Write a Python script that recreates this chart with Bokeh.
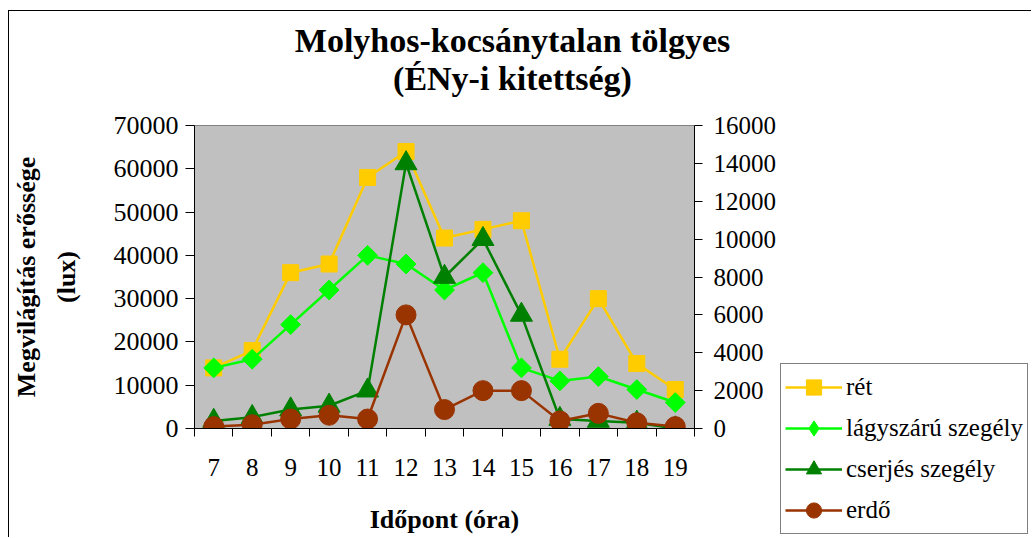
import math
from bokeh.plotting import figure
from bokeh.layouts import row
from bokeh.models import (Range1d, LinearAxis, FixedTicker, Legend, LegendItem, Label)
from bokeh.embed import file_html
from bokeh.resources import INLINE

hours = [7, 8, 9, 10, 11, 12, 13, 14, 15, 16, 17, 18, 19]
ret = [14000, 18000, 36000, 38000, 58000, 64000, 44000, 46000, 48000, 16000, 30000, 15000, 9000]
lagyszaru = [14000, 16000, 24000, 32000, 40000, 38000, 32000, 36000, 14000, 11000, 12000, 9000, 6000]
cserjes = [400, 600, 1000, 1200, 2000, 14000, 8000, 10000, 6000, 500, 400, 300, 0]   # right axis
erdo = [100, 200, 500, 700, 500, 6000, 1000, 2000, 2000, 400, 800, 300, 100]          # right axis
left_ticks = [0, 10000, 20000, 30000, 40000, 50000, 60000, 70000]
right_ticks = [0, 2000, 4000, 6000, 8000, 10000, 12000, 14000, 16000]
series_names = ["rét", "lágyszárú szegély", "cserjés szegély", "erdő"]
colors = ["#FFCC00", "#00FF00", "#008000", "#993300"]
markers = ["square", "square", "triangle", "circle"]
legend_markers = ["square", "diamond", "triangle", "circle"]
mangles = [0, math.pi / 4, 0, 0]
msizes = [16, 14, 22, 20]

FONT = "Liberation Serif"

p = figure(width=770, height=526, output_backend="svg", toolbar_location=None,
           x_range=Range1d(6.5, 19.5), y_range=Range1d(0, 70000),
           min_border_left=183, min_border_right=81, min_border_top=114, min_border_bottom=109,
           x_axis_type=None, y_axis_type=None)
p.frame_align = False
p.extra_y_ranges = {"right": Range1d(0, 16000)}
p.background_fill_color = "#C0C0C0"
p.border_fill_color = "white"
p.outline_line_color = "#808080"
p.outline_line_width = 1

# x axis
xaxis = LinearAxis(ticker=FixedTicker(ticks=hours, minor_ticks=[h - 0.5 for h in hours] + [hours[-1] + 0.5]))
xaxis.major_tick_out = 0
xaxis.major_tick_in = 0
xaxis.minor_tick_out = 8
xaxis.minor_tick_in = 0
xaxis.minor_tick_line_color = "black"
xaxis.axis_line_color = "black"
xaxis.major_label_text_font = FONT
xaxis.major_label_text_font_size = "25px"
xaxis.major_label_text_color = "black"
xaxis.major_label_standoff = 22
xaxis.axis_label = "Időpont (óra)"
xaxis.axis_label_text_font = FONT
xaxis.axis_label_text_font_size = "26px"
xaxis.axis_label_text_font_style = "bold"
xaxis.axis_label_text_color = "black"
xaxis.axis_label_standoff = 26
p.add_layout(xaxis, "below")

# left axis
yaxis = LinearAxis(ticker=FixedTicker(ticks=left_ticks))
yaxis.major_tick_out = 9
yaxis.major_tick_in = 0
yaxis.minor_tick_out = 0
yaxis.minor_tick_in = 0
yaxis.axis_line_color = "black"
yaxis.major_label_text_font = FONT
yaxis.major_label_text_font_size = "26px"
yaxis.major_label_text_color = "black"
yaxis.major_label_standoff = 7
yaxis.axis_label = "Megvilágítás erőssége\n(lux)"
yaxis.axis_label_text_font = FONT
yaxis.axis_label_text_font_size = "26px"
yaxis.axis_label_text_font_style = "bold"
yaxis.axis_label_text_color = "black"
yaxis.axis_label_text_line_height = 1.35
yaxis.axis_label_standoff = 30
p.add_layout(yaxis, "left")

# right axis
raxis = LinearAxis(y_range_name="right", ticker=FixedTicker(ticks=right_ticks))
raxis.major_tick_out = 8
raxis.major_tick_in = 0
raxis.minor_tick_out = 0
raxis.minor_tick_in = 0
raxis.axis_line_color = "black"
raxis.major_label_text_font = FONT
raxis.major_label_text_font_size = "25px"
raxis.major_label_text_color = "black"
raxis.major_label_standoff = 11
p.add_layout(raxis, "right")

series = [ret, lagyszaru, cserjes, erdo]
ranges = ["default", "default", "right", "right"]
for vals, col, mk, ma, ms, rn in zip(series, colors, markers, mangles, msizes, ranges):
    p.line(hours, vals, line_color=col, line_width=2.5, y_range_name=rn)
    p.scatter(hours, vals, marker=mk, angle=ma, size=ms, fill_color=col, line_color=col, y_range_name=rn)

# titles (in the top panels, centred over the whole chart area)
t_sub = Label(x=318, y=47, x_units="screen", y_units="screen", text="(ÉNy-i kitettség)",
              text_align="center", text_baseline="alphabetic", text_font=FONT,
              text_font_size="34px", text_font_style="bold", text_color="black")
p.add_layout(t_sub, "above")
t_main = Label(x=318, y=48, x_units="screen", y_units="screen", text="Molyhos-kocsánytalan tölgyes",
               text_align="center", text_baseline="alphabetic", text_font=FONT,
               text_font_size="34px", text_font_style="bold", text_color="black")
p.add_layout(t_main, "above")

# legend figure (to the right of the chart)
lf = figure(width=252, height=526, output_backend="svg", toolbar_location=None,
            x_range=Range1d(0, 1), y_range=Range1d(0, 1), min_border=0,
            x_axis_type=None, y_axis_type=None)
lf.frame_align = False
lf.outline_line_color = None
lf.background_fill_color = "white"
lf.border_fill_color = "white"
items = []
for name, vals, col, mk, ms in zip(series_names, series, colors, legend_markers, msizes):
    lr = lf.line(hours, vals, line_color=col, line_width=2.5)
    sr = lf.scatter(hours, vals, marker=mk, size=ms, fill_color=col, line_color=col)
    items.append(LegendItem(label=name, renderers=[lr, sr]))
legend = Legend(items=items, location=(1, 3))
legend.border_line_color = "black"
legend.border_line_width = 1
legend.background_fill_color = "white"
legend.background_fill_alpha = 1
legend.label_text_font = FONT
legend.label_text_font_size = "25px"
legend.label_text_color = "black"
legend.glyph_width = 57
legend.glyph_height = 38
legend.label_height = 38
legend.spacing = 3
legend.padding = 4
legend.margin = 0
legend.label_standoff = 4
lf.add_layout(legend, "center")

layout = row(p, lf, styles={"border-left": "1px solid black", "border-top": "1px solid black",
                            "margin-left": "8px", "margin-top": "10px"})

open("out.html", "w").write(file_html(layout, INLINE))
